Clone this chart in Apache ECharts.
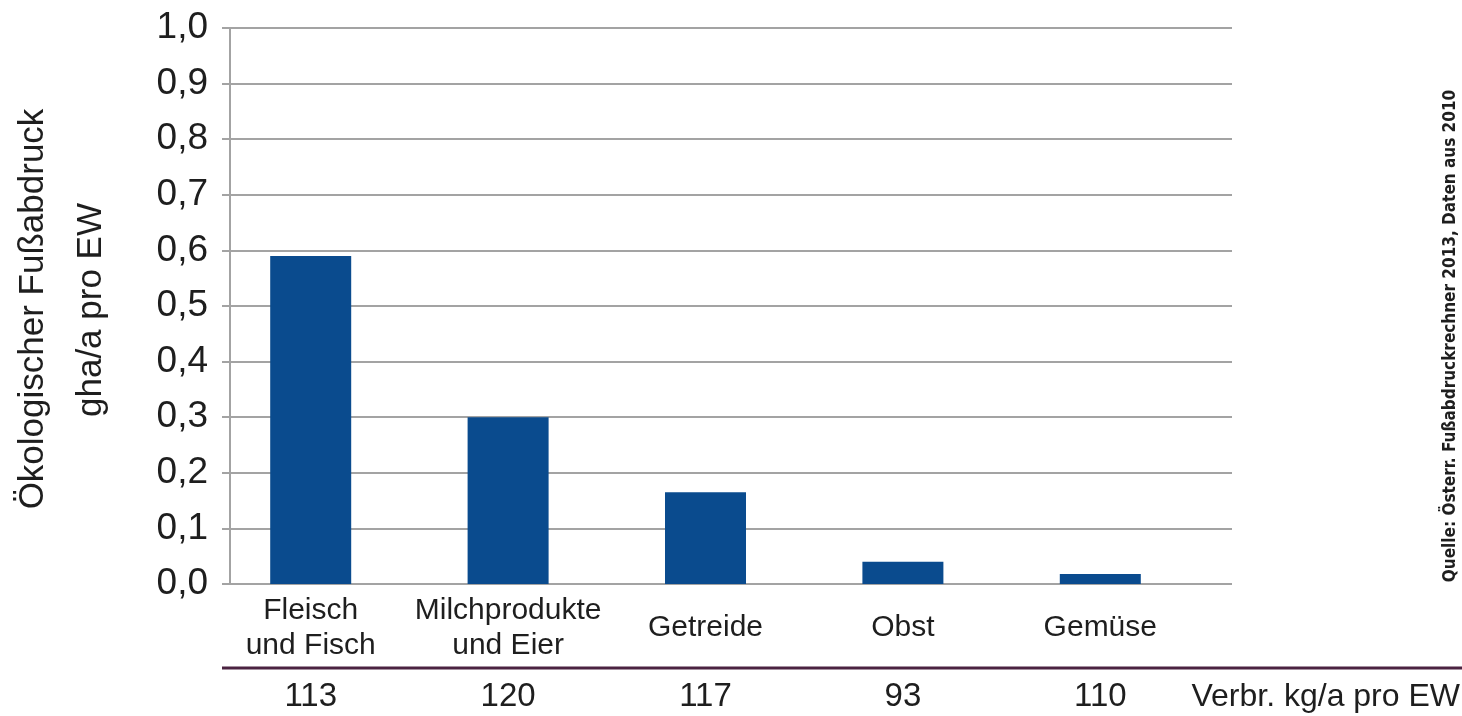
<!DOCTYPE html>
<html>
<head>
<meta charset="utf-8">
<script src="https://cdn.jsdelivr.net/npm/echarts@6/dist/echarts.min.js"></script>
<style>
  html, body { margin: 0; padding: 0; background: #fff; }
  #chart { width: 1462px; height: 716px; }
</style>
</head>
<body>
<div id="chart"></div>
<script>
// Daten
const categories = ['Fleisch\nund Fisch', 'Milchprodukte\nund Eier', 'Getreide', 'Obst', 'Gemüse']
const footprint = [0.59, 0.30, 0.165, 0.04, 0.018]
const consumption = ['113', '120', '117', '93', '110']

const yTitle1 = 'Ökologischer Fußabdruck'
const yTitle2 = 'gha/a pro EW'
const consumptionLabel = 'Verbr. kg/a pro EW'
const sourceText = 'Quelle: Österr. Fußabdruckrechner 2013, Daten aus 2010'

const font = '"Liberation Sans", Arial, sans-serif'
const textColor = '#1e1e1e'
const gridColor = '#a3a3a3'
const barColor = '#0a4b8e'

const chart = echarts.init(document.getElementById('chart'))

const option = {
  backgroundColor: '#fff',
  animation: false,
  grid: [
    // Achse + Gitterlinien
    { left: 230, right: 230, top: 28, bottom: 132 },
    // Balken
    { left: 212, right: 263, top: 28, bottom: 132 }
  ],
  xAxis: [
    { type: 'value', gridIndex: 0, show: false, min: 0, max: 1 },
    {
      type: 'category',
      gridIndex: 1,
      data: categories,
      axisLine: { show: false },
      axisTick: { show: false },
      axisLabel: {
        interval: 0,
        margin: 44,
        verticalAlign: 'middle',
        fontFamily: font,
        fontSize: 30,
        lineHeight: 35,
        color: textColor
      }
    },
    {
      type: 'category',
      gridIndex: 1,
      position: 'bottom',
      offset: 84,
      data: consumption,
      axisLine: { show: false },
      axisTick: { show: false },
      axisLabel: {
        interval: 0,
        margin: 29,
        verticalAlign: 'middle',
        fontFamily: font,
        fontSize: 33,
        color: textColor
      }
    }
  ],
  yAxis: [
    {
      type: 'value',
      gridIndex: 0,
      min: 0,
      max: 1,
      interval: 0.1,
      axisLine: { show: true, lineStyle: { color: gridColor, width: 2 } },
      axisTick: { show: true, length: 8, lineStyle: { color: gridColor, width: 2 } },
      splitLine: { show: true, lineStyle: { color: gridColor, width: 2 } },
      axisLabel: {
        margin: 22,
        fontFamily: font,
        fontSize: 37,
        color: textColor,
        formatter: v => v.toFixed(1).replace('.', ',')
      }
    },
    { type: 'value', gridIndex: 1, min: 0, max: 1, show: false }
  ],
  series: [
    {
      type: 'bar',
      xAxisIndex: 1,
      yAxisIndex: 1,
      data: footprint,
      barWidth: 81,
      itemStyle: { color: barColor }
    }
  ],
  graphic: [
    // Trennlinie unter den Kategorien
    {
      type: 'line',
      shape: { x1: 222, y1: 668, x2: 1462, y2: 668 },
      style: { stroke: '#4b2341', lineWidth: 3 }
    },
    {
      type: 'text',
      x: 1460,
      y: 697,
      style: {
        text: consumptionLabel,
        font: '32px ' + font,
        fill: textColor,
        align: 'right',
        verticalAlign: 'middle'
      }
    },
    // Achsentitel
    {
      type: 'text',
      x: 33,
      y: 309,
      rotation: Math.PI / 2,
      style: {
        text: yTitle1,
        font: '35px ' + font,
        fill: textColor,
        align: 'center',
        verticalAlign: 'middle'
      }
    },
    {
      type: 'text',
      x: 91,
      y: 310,
      rotation: Math.PI / 2,
      style: {
        text: yTitle2,
        font: '35px ' + font,
        fill: textColor,
        align: 'center',
        verticalAlign: 'middle'
      }
    },
    // Quelle
    {
      type: 'text',
      x: 1451,
      y: 336,
      rotation: Math.PI / 2,
      style: {
        text: sourceText,
        font: 'bold 17px "Liberation Sans Narrow", "DejaVu Sans Condensed", sans-serif',
        fill: textColor,
        align: 'center',
        verticalAlign: 'middle'
      }
    }
  ]
}

chart.setOption(option)
</script>
</body>
</html>
